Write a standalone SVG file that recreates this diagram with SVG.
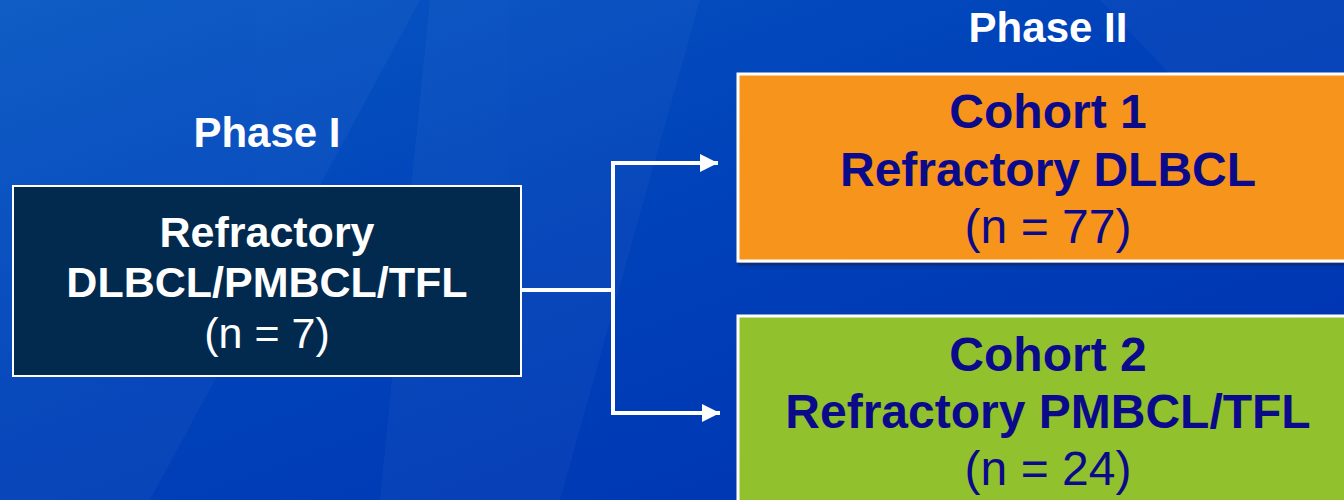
<svg xmlns="http://www.w3.org/2000/svg" width="1344" height="500" viewBox="0 0 1344 500">
  <defs>
    <linearGradient id="bg" x1="0" y1="0" x2="1" y2="1">
      <stop offset="0" stop-color="#0858c4"/>
      <stop offset="0.45" stop-color="#0042b9"/>
      <stop offset="1" stop-color="#0030b0"/>
    </linearGradient>
    <marker id="arrow" markerUnits="userSpaceOnUse" markerWidth="20" markerHeight="18" refX="18" refY="9" orient="auto">
      <path d="M0,0 L18,9 L0,18 Z" fill="#ffffff"/>
    </marker>
    <filter id="shadow" x="-5%" y="-5%" width="110%" height="115%">
      <feDropShadow dx="2" dy="3" stdDeviation="1.5" flood-color="#1a1a40" flood-opacity="0.6"/>
    </filter>
  </defs>
  <style>
    .lbl { font-family: "Liberation Sans", Arial, sans-serif; text-anchor: middle; }
    .ph { font-size: 42px; }
    .l { font-size: 43px; }
    .r { font-size: 48px; }
    .b { font-weight: bold; }
    .w { fill: #ffffff; }
    .n { fill: #0a0a8a; }
    .conn { fill: none; stroke: #ffffff; stroke-width: 4; }
  </style>
  <rect x="0" y="0" width="1344" height="500" fill="url(#bg)"/>
  <g opacity="0.03" fill="#ffffff">
    <polygon points="0,0 420,0 150,500 0,500"/>
    <polygon points="430,0 700,0 560,500 380,500"/>
    <polygon points="1100,0 1344,0 1344,260"/>
  </g>

  <text class="lbl ph b w" x="267" y="147">Phase I</text>
  <text class="lbl ph b w" x="1048" y="42">Phase II</text>

  <g id="phase1">
    <rect x="13" y="186" width="508" height="190" fill="#012a4e" stroke="#ffffff" stroke-width="2"/>
    <text class="lbl l b w" x="267" y="247">Refractory</text>
    <text class="lbl l b w" x="267" y="297">DLBCL/PMBCL/TFL</text>
    <text class="lbl l w" x="267" y="348">(n = 7)</text>
  </g>

  <g id="cohort1">
    <rect x="738" y="74" width="650" height="187" fill="#f7941e" stroke="#ffffff" stroke-width="3" filter="url(#shadow)"/>
    <text class="lbl r b n" x="1048" y="128">Cohort 1</text>
    <text class="lbl r b n" x="1048" y="186">Refractory DLBCL</text>
    <text class="lbl r n" x="1048" y="243">(n = 77)</text>
  </g>

  <g id="cohort2">
    <rect x="738" y="316" width="650" height="220" fill="#92c12e" stroke="#ffffff" stroke-width="3" filter="url(#shadow)"/>
    <text class="lbl r b n" x="1048" y="371">Cohort 2</text>
    <text class="lbl r b n" x="1048" y="428">Refractory PMBCL/TFL</text>
    <text class="lbl r n" x="1048" y="485">(n = 24)</text>
  </g>

  <g id="connectors">
    <path class="conn" d="M521,290 L613,290"/>
    <path class="conn" d="M613,290 L613,163 L718,163" marker-end="url(#arrow)"/>
    <path class="conn" d="M613,290 L613,413 L720,413" marker-end="url(#arrow)"/>
  </g>
</svg>
